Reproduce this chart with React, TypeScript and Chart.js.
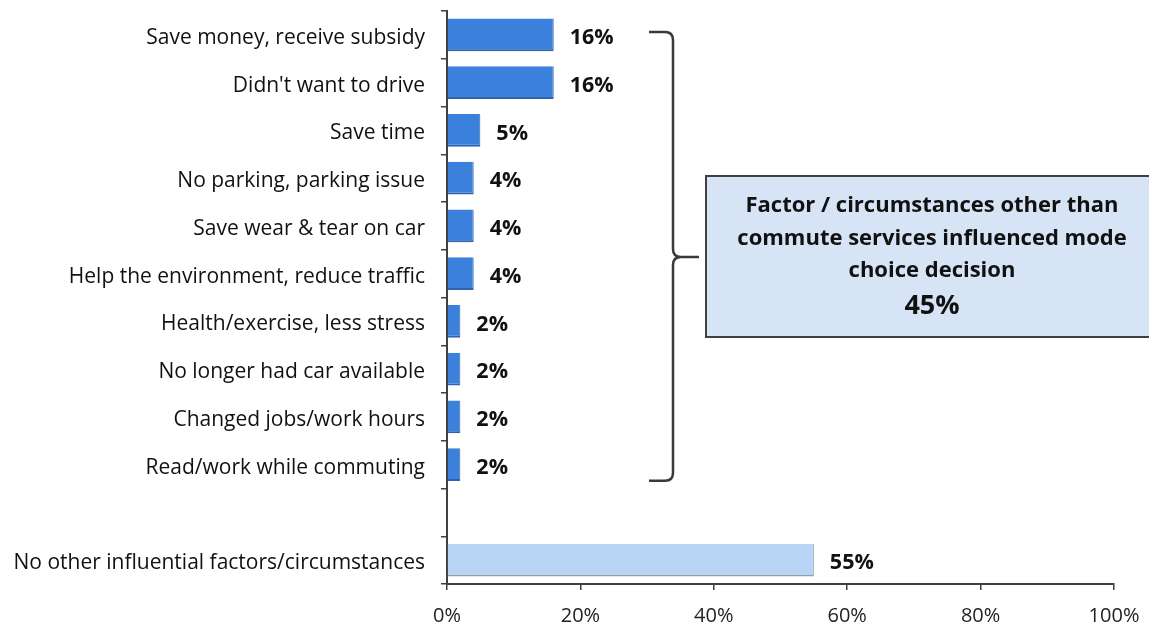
import React, { useEffect, useRef } from "react";
import { Chart, registerables } from "chart.js";

Chart.register(...registerables);

const categories: string[] = [
  "Save money, receive subsidy",
  "Didn't want to drive",
  "Save time",
  "No parking, parking issue",
  "Save wear & tear on car",
  "Help the environment, reduce traffic",
  "Health/exercise, less stress",
  "No longer had car available",
  "Changed jobs/work hours",
  "Read/work while commuting",
  "",
  "No other influential factors/circumstances",
];

const values: (number | null)[] = [16, 16, 5, 4, 4, 4, 2, 2, 2, 2, null, 55];

const xTicks: number[] = [0, 20, 40, 60, 80, 100];

const boxLines: string[] = [
  "Factor / circumstances other than",
  "commute services influenced mode",
  "choice decision",
];
const boxTotal = "45%";

const FONT = "'Open Sans', 'Liberation Sans', sans-serif";

const labelsPlugin = {
  id: "valueLabels",
  afterDatasetsDraw(chart: any) {
    const ctx = chart.ctx;
    const meta = chart.getDatasetMeta(0);
    ctx.save();
    ctx.font = `bold 21.5px ${FONT}`;
    ctx.fillStyle = "#111";
    ctx.textBaseline = "middle";
    ctx.textAlign = "left";
    meta.data.forEach((bar: any, i: number) => {
      const v = values[i];
      if (v == null) return;
      ctx.fillText(v + "%", bar.x + 16, bar.y + 3);
    });
    ctx.restore();
  },
};

const annotationPlugin = {
  id: "bracketBox",
  afterDraw(chart: any) {
    const ctx = chart.ctx;
    const y = chart.scales.y;
    const top = y.getPixelForValue(0) - 3;
    const bottom = y.getPixelForValue(9) + 16;
    const mid = 257;
    const xv = 673;
    const xl = 649;
    const r = 8;
    ctx.save();
    ctx.strokeStyle = "#3a3a3a";
    ctx.lineWidth = 2.5;
    ctx.beginPath();
    ctx.moveTo(xl, top);
    ctx.lineTo(xv - r, top);
    ctx.quadraticCurveTo(xv, top, xv, top + r);
    ctx.lineTo(xv, mid - r);
    ctx.quadraticCurveTo(xv, mid, xv + r, mid);
    ctx.lineTo(699, mid);
    ctx.moveTo(xv + r, mid);
    ctx.quadraticCurveTo(xv, mid, xv, mid + r);
    ctx.lineTo(xv, bottom - r);
    ctx.quadraticCurveTo(xv, bottom, xv - r, bottom);
    ctx.lineTo(xl, bottom);
    ctx.stroke();

    // box
    const bx = 706, by = 176, bw = 450, bh = 161;
    ctx.fillStyle = "#d6e4f6";
    ctx.fillRect(bx, by, bw, bh);
    ctx.strokeStyle = "#404040";
    ctx.lineWidth = 2;
    ctx.strokeRect(bx, by, bw, bh);

    ctx.fillStyle = "#111";
    ctx.textAlign = "center";
    ctx.textBaseline = "middle";
    ctx.font = `bold 22px ${FONT}`;
    const cx = 932;
    boxLines.forEach((t, i) => ctx.fillText(t, cx, 206 + i * 32.5));
    ctx.font = `bold 27px ${FONT}`;
    ctx.fillText(boxTotal, cx, 306);
    ctx.restore();
  },
};

export default function App() {
  const ref = useRef<HTMLCanvasElement>(null);
  useEffect(() => {
    document.body.style.margin = "0";
    const canvas = ref.current!;
    const chart = new Chart(canvas, {
      type: "bar",
      data: {
        labels: categories,
        datasets: [
          {
            data: values as any,
            backgroundColor: values.map((_, i) => (i === 11 ? "#b8d5f6" : "#3b80db")),
            borderColor: values.map((_, i) => (i === 11 ? "#8e9fb3" : "#2d63b0")),
            borderWidth: { top: 0, left: 0, right: 1, bottom: 2 } as any,
            borderSkipped: false,
            categoryPercentage: 1,
            barPercentage: 0.69,
          },
        ],
      },
      options: {
        indexAxis: "y",
        animation: false,
        responsive: false,
        maintainAspectRatio: false,
        layout: { padding: { top: 11, right: 35, left: 0, bottom: 0 } },
        plugins: { legend: { display: false }, tooltip: { enabled: false } },
        scales: {
          x: {
            min: 0,
            max: 100,
            afterBuildTicks(scale: any) {
              scale.ticks = xTicks.map((v) => ({ value: v }));
            },
            afterFit(scale: any) {
              scale.height = 43;
              scale.paddingLeft = 0;
              scale.paddingRight = 0;
            },
            ticks: {
              callback: (v: any) => v + "%",
              font: { family: FONT, size: 20 },
              color: "#222",
              padding: 14,
              maxRotation: 0,
            },
            grid: {
              drawOnChartArea: false,
              drawTicks: true,
              tickLength: 6,
              color: "#404040",
              lineWidth: 1.5,
            },
            border: { display: true, color: "#404040", width: 2 },
          },
          y: {
            afterFit(scale: any) {
              scale.width = 447;
              scale.paddingTop = 0;
              scale.paddingBottom = 0;
            },
            ticks: {
              font: { family: FONT, size: 21 },
              color: "#111",
              padding: 16,
              labelOffset: 3,
              autoSkip: false,
            },
            grid: {
              offset: true,
              drawOnChartArea: false,
              drawTicks: true,
              tickLength: 6,
              color: "#404040",
              lineWidth: 1.5,
            },
            border: { display: true, color: "#404040", width: 2 },
          },
        },
      },
      plugins: [labelsPlugin, annotationPlugin],
    });
    return () => chart.destroy();
  }, []);
  return (
    <div style={{ width: 1149, height: 627 }}>
      <canvas ref={ref} width={1149} height={627} style={{ display: "block" }} />
    </div>
  );
}
